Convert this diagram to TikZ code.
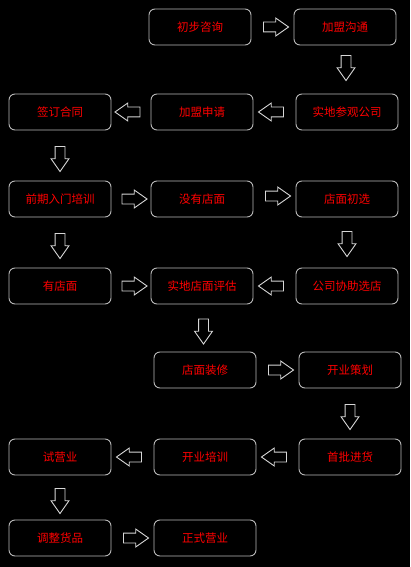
\documentclass[tikz,border=0pt]{standalone}
\usepackage{fontspec}
\setmainfont{Noto Sans CJK SC}
\usetikzlibrary{positioning,shapes.arrows,calc}
\definecolor{boxline}{RGB}{185,185,185}
\definecolor{arrline}{RGB}{215,215,215}
\newcommand\arrbody{\rule{9pt}{0pt}\rule{0pt}{9pt}}

\begin{document}
\begin{tikzpicture}[
  x=1pt, y=-1pt,
  stage/.style={draw=boxline, line width=0.9pt, rounded corners=6pt, fill=black,
    minimum width=102pt, minimum height=36pt, inner sep=0pt,
    text=red, font=\fontsize{11.5}{13}\selectfont},
  blockarr/.style={single arrow, draw=arrline, line width=0.9pt, fill=black,
    minimum height=25pt, inner sep=0pt,
    single arrow head extend=4pt, single arrow tip angle=70},
  goright/.style={blockarr},
  goleft/.style={blockarr, shape border rotate=180},
  godown/.style={blockarr, shape border rotate=270}
]
  \fill[black] (0,0) rectangle (410,567);
  \useasboundingbox (0,0) rectangle (410,567);

  % Stages
  \node[stage] (a1) at (200, 27) {初步咨询};
  \node[stage] (a2) at (345, 27) {加盟沟通};
  \node[stage] (b1) at (60, 112) {签订合同};
  \node[stage] (b2) at (202, 112) {加盟申请};
  \node[stage] (b3) at (347, 112) {实地参观公司};
  \node[stage] (c1) at (60, 199) {前期入门培训};
  \node[stage] (c2) at (202, 199) {没有店面};
  \node[stage] (c3) at (347, 199) {店面初选};
  \node[stage] (d1) at (60, 286) {有店面};
  \node[stage] (d2) at (202, 286) {实地店面评估};
  \node[stage] (d3) at (347, 286) {公司协助选店};
  \node[stage] (e2) at (205, 370) {店面装修};
  \node[stage] (e3) at (350, 370) {开业策划};
  \node[stage] (f1) at (60, 457) {试营业};
  \node[stage] (f2) at (205, 457) {开业培训};
  \node[stage] (f3) at (350, 457) {首批进货};
  \node[stage] (g1) at (60, 538) {调整货品};
  \node[stage] (g2) at (205, 538) {正式营业};

  % Block arrows between stages
  \node[goright] (r1) at ($(a1.east)!0.5!(a2.west)$) {\arrbody};
  \node[godown, yshift=5pt] (r2) at ($(a2.south)!0.5!(b3.north)$) {\arrbody};
  \node[goleft] (r3) at ($(b3.west)!0.5!(b2.east)$) {\arrbody};
  \node[goleft] (r4) at ($(b2.west)!0.5!(b1.east)$) {\arrbody};
  \node[godown] (r5) at ($(b1.south)!0.5!(c1.north)$) {\arrbody};
  \node[goright] (r6) at ($(c1.east)!0.5!(c2.west)$) {\arrbody};
  \node[goright, yshift=3pt] (r7) at ($(c2.east)!0.5!(c3.west)$) {\arrbody};
  \node[godown, yshift=2pt] (r8) at ($(c3.south)!0.5!(d3.north)$) {\arrbody};
  \node[goleft] (r9) at ($(d3.west)!0.5!(d2.east)$) {\arrbody};
  \node[godown] (r10) at ($(c1.south)!0.5!(d1.north)$) {\arrbody};
  \node[goright] (r11) at ($(d1.east)!0.5!(d2.west)$) {\arrbody};
  \node[godown] (r12) at ($(d2.south)!0.5!(e2.north)$) {\arrbody};
  \node[goright] (r13) at ($(e2.east)!0.5!(e3.west)$) {\arrbody};
  \node[godown] (r14) at ($(e3.south)!0.5!(f3.north)$) {\arrbody};
  \node[goleft] (r15) at ($(f3.west)!0.5!(f2.east)$) {\arrbody};
  \node[goleft] (r16) at ($(f2.west)!0.5!(f1.east)$) {\arrbody};
  \node[godown] (r17) at ($(f1.south)!0.5!(g1.north)$) {\arrbody};
  \node[goright] (r18) at ($(g1.east)!0.5!(g2.west)$) {\arrbody};
\end{tikzpicture}
\end{document}
